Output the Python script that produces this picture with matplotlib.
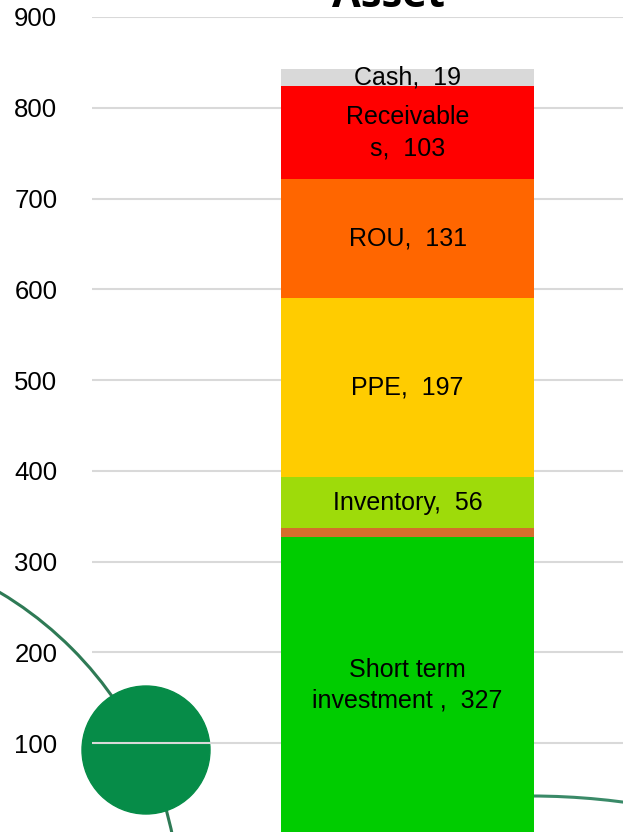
import numpy as np
import matplotlib
matplotlib.use("Agg")
import matplotlib.pyplot as plt
from matplotlib.patches import Circle, Arc

plt.rcParams["font.family"] = ["Liberation Sans", "DejaVu Sans"]

# stacked asset components, bottom to top
segments = ["Short term\ninvestment ", "Other", "Inventory", "PPE", "ROU", "Receivable\ns", "Cash"]
values = [327, 10, 56, 197, 131, 103, 19]
colors = ["#00CC00", "#D46E2C", "#9EDB0A", "#FFCC00", "#FF6600", "#FF0000", "#D9D9D9"]
show_label = [True, False, True, True, True, True, True]
yticks = [100, 200, 300, 400, 500, 600, 700, 800, 900]

W, H = 623, 832
fig = plt.figure(figsize=(W / 100, H / 100), dpi=100)

# background decoration (pixel coords)
bg = fig.add_axes([0, 0, 1, 1], zorder=0)
bg.set_xlim(0, W); bg.set_ylim(H, 0); bg.axis("off")
bg.add_patch(Arc((-190, 910), 740, 740, theta1=0, theta2=360,
                 color="#2E7A55", lw=2.2))
bg.add_patch(Circle((146, 750), 64, color="#068C48", zorder=3))
bg.add_patch(Arc((531, 1497), 1402, 1402, theta1=0, theta2=360,
                 color="#3A8A68", lw=2.2))

ax = fig.add_axes([92 / W, -2 / H, (W - 92) / W, 817 / H], zorder=1)
ax.patch.set_alpha(0)

bottom = 0
for name, v, c, lab in zip(segments, values, colors, show_label):
    ax.bar(0, v, bottom=bottom, width=0.5, color=c, zorder=2)
    if lab:
        ax.text(0, bottom + v / 2, f"{name},  {v}", ha="center", va="center",
                fontsize=18, color="black", zorder=3, linespacing=1.35)
    bottom += v

ax.set_xlim(-0.624, 0.426)
ax.set_ylim(0, 900)
ax.set_yticks(yticks)
ax.set_xticks([])
ax.tick_params(axis="y", length=0, pad=25, labelsize=18.5)
ax.yaxis.grid(True, color="#D9D9D9", lw=1.5, zorder=1)
ax.set_axisbelow(True)
for s in ax.spines.values():
    s.set_visible(False)

fig.text(389 / W, 1 - 7 / H, "Asset", ha="center", va="baseline",
         fontsize=30, fontweight="bold", family=["Open Sans", "DejaVu Sans"])

fig.savefig("out.png", dpi=100)
